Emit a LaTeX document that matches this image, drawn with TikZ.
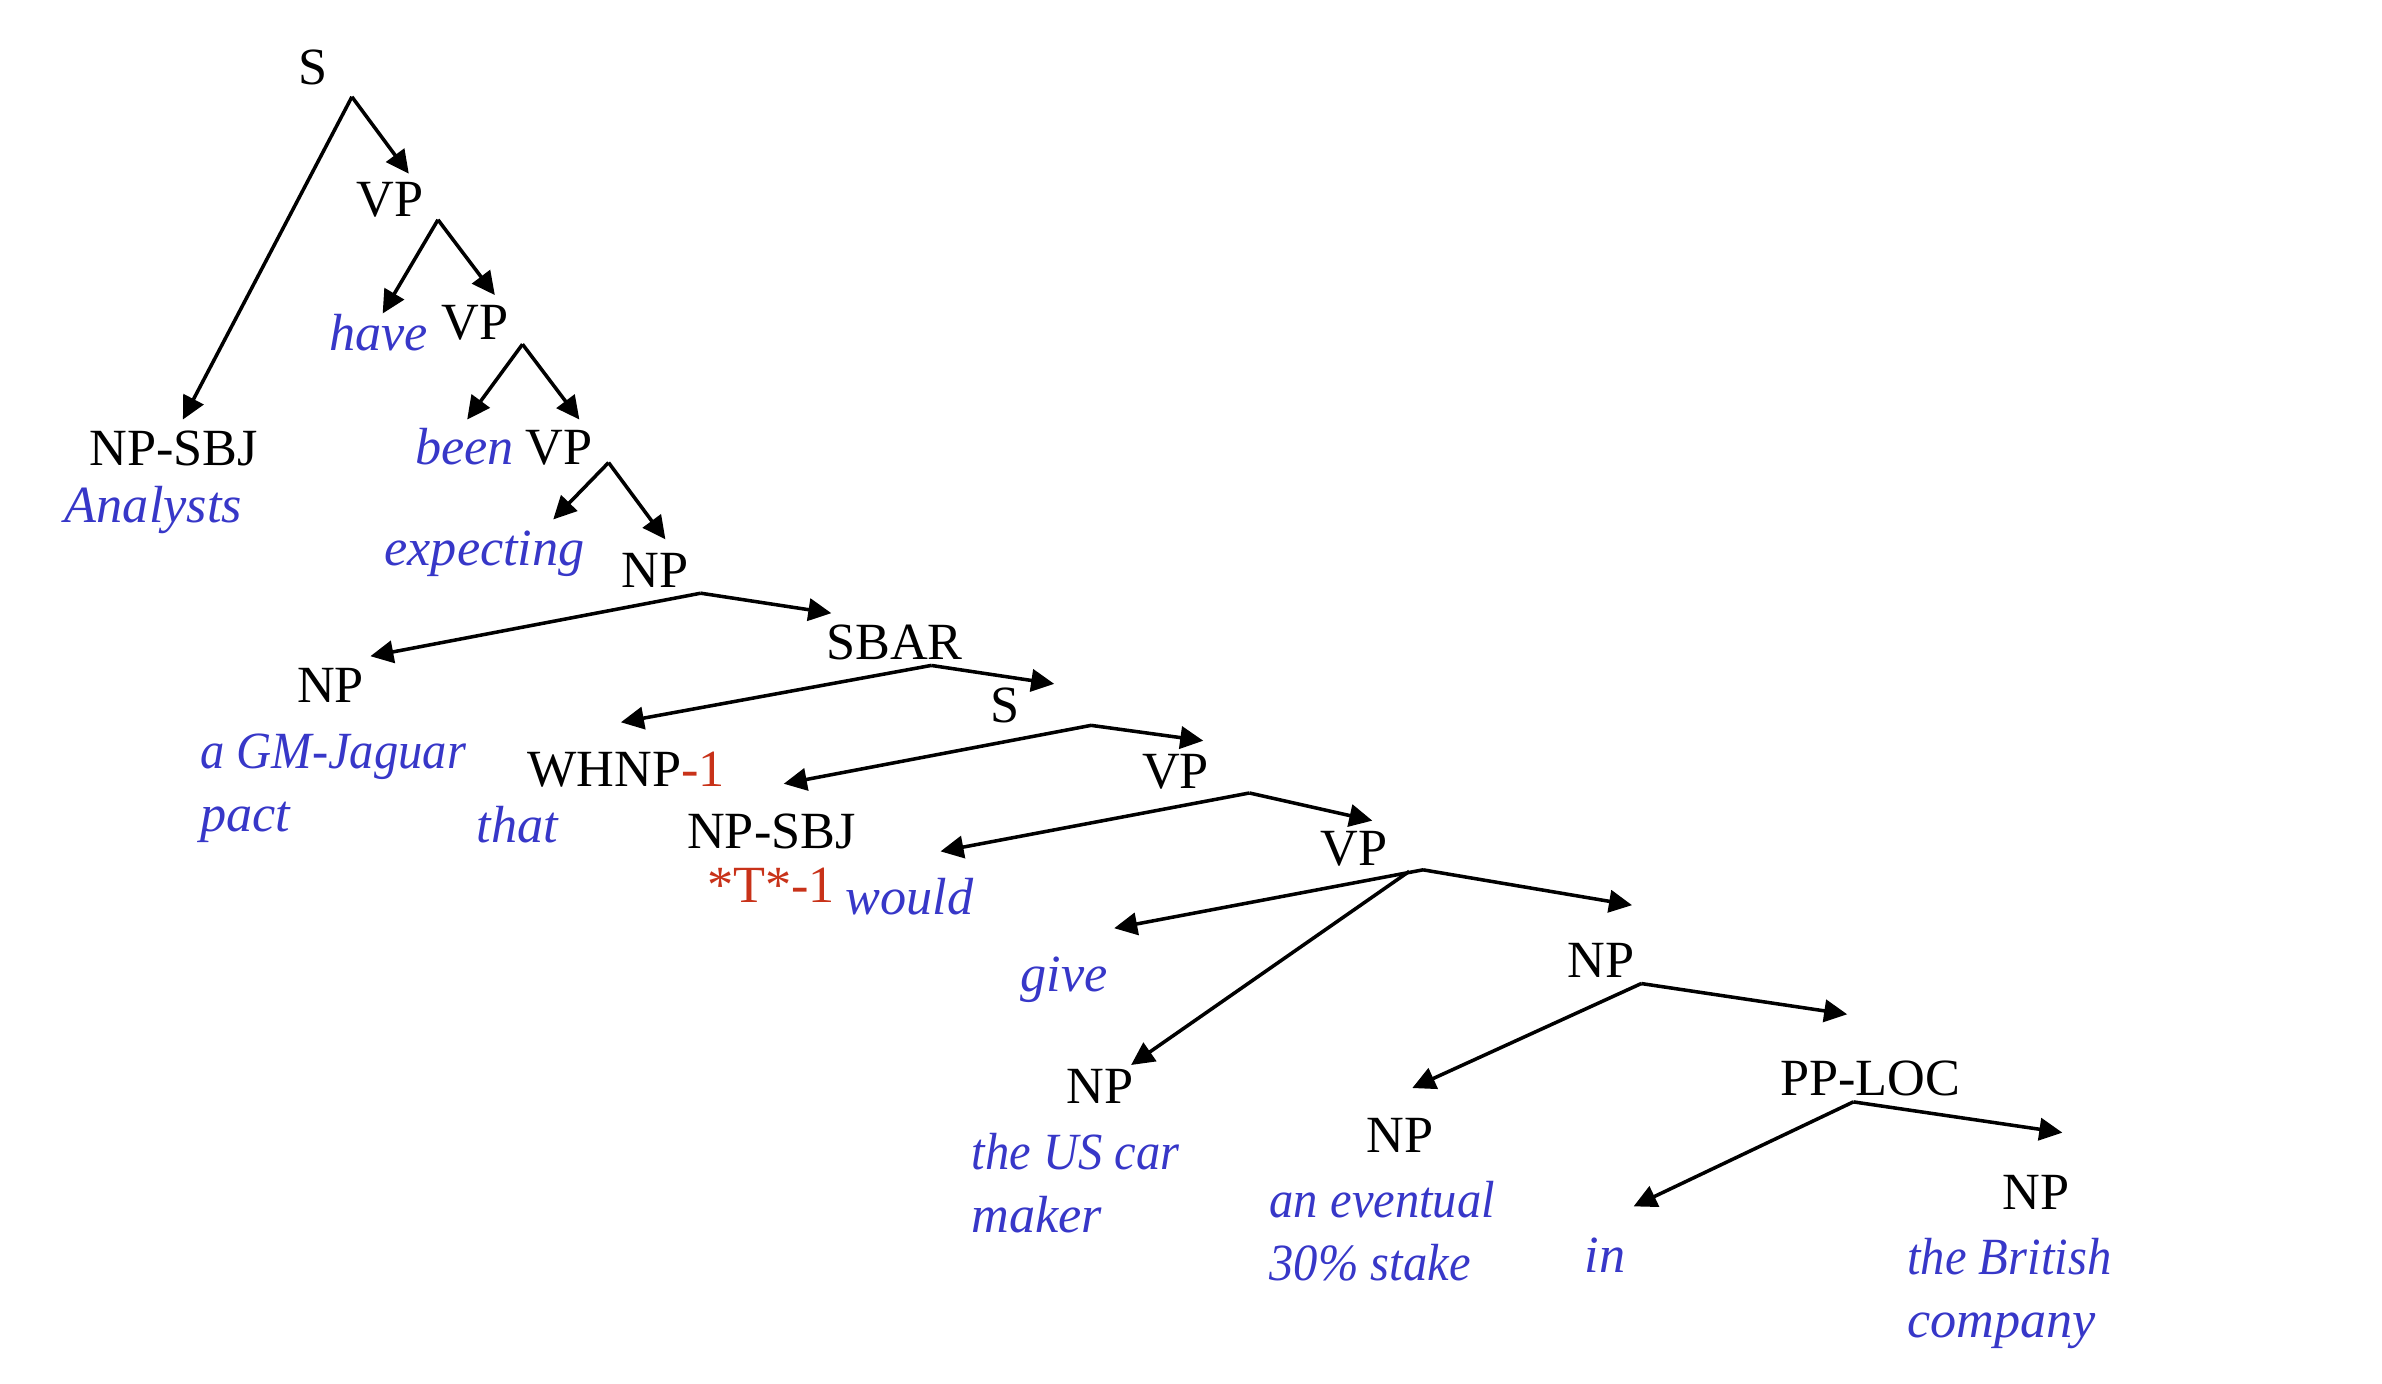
\documentclass[tikz,border=0pt]{standalone}
\usepackage{fontspec}
\setmainfont{Liberation Serif}
\newfontfamily\itn{Liberation Serif}[FakeStretch=0.93]
\usetikzlibrary{arrows.meta}
\definecolor{wblue}{RGB}{55,55,200}
\definecolor{tred}{RGB}{200,50,25}
\tikzset{
  lab/.style={font={\fontsize{34}{41}\selectfont}, inner sep=0pt, anchor=base},
  wrd/.style={font={\fontsize{34}{41}\selectfont\itshape}, text=wblue, inner sep=0pt, anchor=base west},
  edge/.style={line width=2.3pt, -{Triangle[length=15pt,width=14.5pt]}}
}
\newcommand{\twoline}[2]{\begin{tabular}[t]{@{}l@{}}#1\\#2\end{tabular}}
\newcommand{\narrow}[1]{{\itn\itshape #1}}
\begin{document}
\begin{tikzpicture}[x=1pt,y=-1pt]
\useasboundingbox (0,0) rectangle (1550,900);
% category labels
\node[lab] (s0) at (204,55) {S};
\node[lab] (vp1) at (254,141) {VP};
\node[lab] (vp2) at (309,221) {VP};
\node[lab] (vp3) at (364,302) {VP};
\node[lab] (npsbj1) at (113,303) {NP-SBJ};
\node[lab] (np1) at (426,382) {NP};
\node[lab] (np2) at (215,457) {NP};
\node[lab] (sbar) at (582,429) {SBAR};
\node[lab] (s2) at (654,470) {S};
\node[lab, anchor=base west] (whnp) at (343,512) {WHNP\textcolor{tred}{-1}};
\node[lab] (vp4) at (765,513) {VP};
\node[lab] (npsbj2) at (502,552) {NP-SBJ};
\node[lab] (vp5) at (881,563) {VP};
\node[lab] (np3) at (1042,636) {NP};
\node[lab] (np4) at (716,718) {NP};
\node[lab] (np5) at (911,750) {NP};
\node[lab] (pploc) at (1217,713) {PP-LOC};
\node[lab] (np6) at (1325,787) {NP};
% words
\node[wrd] (w-have) at (214,228) {have};
\node[wrd] (w-been) at (270,302) {been};
\node[wrd] (w-analysts) at (42,340) {Analysts};
\node[wrd] (w-expecting) at (250,368) {expecting};
\node[wrd] (w-gm) at (130,500) {\twoline{\narrow{a GM-Jaguar}}{pact}};
\node[wrd] (w-that) at (310,548) {that};
\node[wrd, text=tred, font={\fontsize{34}{41}\selectfont}] (w-trace) at (460,587) {*T*-1};
\node[wrd] (w-would) at (550,595) {would};
\node[wrd] (w-give) at (664,645) {give};
\node[wrd] (w-us) at (632,761) {\twoline{\narrow{the US car}}{maker}};
\node[wrd] (w-stake) at (826,792) {\twoline{\narrow{an eventual}}{\narrow{30\% stake}}};
\node[wrd] (w-in) at (1031,828) {in};
\node[wrd] (w-brit) at (1241,829) {\twoline{\narrow{the British}}{company}};
% branch points and arrow ends
\coordinate (a-s0) at (229,63);
\coordinate (t-s0-npsbj1) at (119,273);
\coordinate (t-s0-vp1) at (266,113);
\coordinate (a-vp1) at (285,143);
\coordinate (t-vp1-have) at (249,204);
\coordinate (t-vp1-vp2) at (322,192);
\coordinate (a-vp2) at (340,224);
\coordinate (t-vp2-been) at (304,273);
\coordinate (t-vp2-vp3) at (377,273);
\coordinate (a-vp3) at (396,301);
\coordinate (t-vp3-exp) at (360,338);
\coordinate (t-vp3-np1) at (433,351);
\coordinate (a-np1) at (456,386);
\coordinate (t-np1-np2) at (241,427);
\coordinate (t-np1-sbar) at (541,399);
\coordinate (a-sbar) at (606,433);
\coordinate (t-sbar-whnp) at (404,470);
\coordinate (t-sbar-s2) at (686,445);
\coordinate (a-s2) at (710,472);
\coordinate (t-s2-npsbj2) at (510,510);
\coordinate (t-s2-vp4) at (783,482);
\coordinate (a-vp4) at (813,516);
\coordinate (t-vp4-would) at (612,554);
\coordinate (t-vp4-vp5) at (893,534);
\coordinate (a-vp5) at (926,566);
\coordinate (a2-vp5) at (917,567);
\coordinate (t-vp5-give) at (725,604);
\coordinate (t-vp5-np4) at (736,693);
\coordinate (t-vp5-np3) at (1062,589);
\coordinate (a-np3) at (1068,640);
\coordinate (t-np3-np5) at (919,708);
\coordinate (t-np3-pp) at (1202,660);
\coordinate (a-pp) at (1206,717);
\coordinate (t-pp-in) at (1063,785);
\coordinate (t-pp-np6) at (1342,737);
% connectors
\draw[edge] (a-s0) -- (t-s0-npsbj1);
\draw[edge] (a-s0) -- (t-s0-vp1);
\draw[edge] (a-vp1) -- (t-vp1-have);
\draw[edge] (a-vp1) -- (t-vp1-vp2);
\draw[edge] (a-vp2) -- (t-vp2-been);
\draw[edge] (a-vp2) -- (t-vp2-vp3);
\draw[edge] (a-vp3) -- (t-vp3-exp);
\draw[edge] (a-vp3) -- (t-vp3-np1);
\draw[edge] (a-np1) -- (t-np1-np2);
\draw[edge] (a-np1) -- (t-np1-sbar);
\draw[edge] (a-sbar) -- (t-sbar-whnp);
\draw[edge] (a-sbar) -- (t-sbar-s2);
\draw[edge] (a-s2) -- (t-s2-npsbj2);
\draw[edge] (a-s2) -- (t-s2-vp4);
\draw[edge] (a-vp4) -- (t-vp4-would);
\draw[edge] (a-vp4) -- (t-vp4-vp5);
\draw[edge] (a-vp5) -- (t-vp5-give);
\draw[edge] (a2-vp5) -- (t-vp5-np4);
\draw[edge] (a-vp5) -- (t-vp5-np3);
\draw[edge] (a-np3) -- (t-np3-np5);
\draw[edge] (a-np3) -- (t-np3-pp);
\draw[edge] (a-pp) -- (t-pp-in);
\draw[edge] (a-pp) -- (t-pp-np6);
\end{tikzpicture}
\end{document}
